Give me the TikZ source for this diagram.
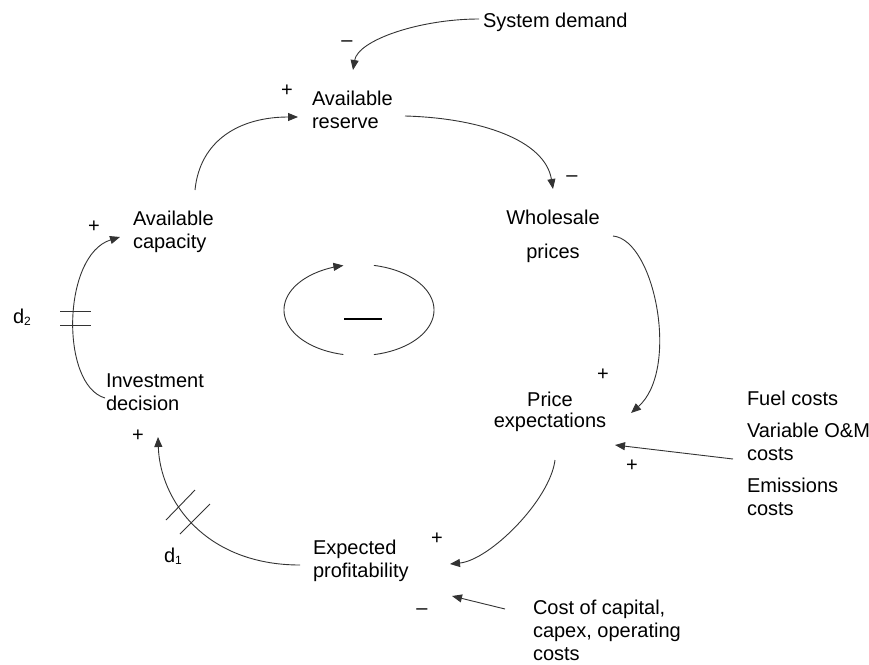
\documentclass[tikz,border=0pt]{standalone}
\usepackage{fontspec}
\setmainfont{Liberation Sans}
\usetikzlibrary{arrows.meta}
\begin{document}
\begin{tikzpicture}[x=1pt,y=-1pt,
  every node/.style={inner sep=0pt, outer sep=0pt, font=\fontsize{20}{23}\selectfont},
  lbl/.style={align=left},
  link/.style={draw=black!80, line width=0.9pt, -{Triangle[length=10pt,width=8pt]}},
  plain/.style={draw=black!80, line width=0.9pt},
  plus/.style={anchor=base, yshift=-7pt},
  minus/.style={anchor=base, yshift=-5.5pt}]
\useasboundingbox (0,0) rectangle (869,664);

% variables
\node[lbl, anchor=base west]  (demand)     at (483,27)    {System demand};
\node[lbl, anchor=north west] (reserve)    at (312,91.5)  {Available\\reserve};
\node[lbl, anchor=north west] (capacity)   at (133,211.5) {Available\\capacity};
\node[align=center, anchor=north] (wholesale) at (553,210.5) {Wholesale\\[11pt]prices};
\node[align=center, anchor=north] (priceexp)  at (550,392)   {Price\\[-2pt]expectations};
\node[lbl, anchor=north west] (investment) at (106,373.5) {Investment\\decision};
\node[lbl, anchor=north west] (profit)     at (313,539.5) {Expected\\profitability};
\node[lbl, anchor=base west]  (fuel)       at (747,405)   {Fuel costs};
\node[lbl, anchor=north west] (vom)        at (747,422.5) {Variable O\&M\\costs};
\node[lbl, anchor=north west] (emis)       at (747,477.5) {Emissions\\costs};
\node[lbl, anchor=north west] (capital)    at (533,599.5) {Cost of capital,\\capex, operating\\costs};

% delay labels
\node[anchor=base west] (d2) at (13,323)  {d{\fontsize{12}{12}\selectfont\raisebox{-2pt}{2}}};
\node[anchor=base west] (d1) at (164,562) {d{\fontsize{12}{12}\selectfont\raisebox{-2pt}{1}}};

% causal links
\draw[link] ([shift={(-4,-8)}]demand.base west) .. controls +(-59,0) and +(5,-30) .. ([shift={(41,-21.5)}]reserve.north west);
\draw[link] ([shift={(93,24.5)}]reserve.north west) .. controls +(75,2) and +(-8,-49) .. ([shift={(0,-21.5)}]wholesale.north);
\draw[link] ([shift={(62,-21.5)}]capacity.north west) .. controls +(5,-50) and +(-58,0) .. ([shift={(-14,25.5)}]reserve.north west);
\draw[link] ([shift={(60,25.5)}]wholesale.north) .. controls +(42,4) and +(49,-43) .. ([shift={(81,21)}]priceexp.north);
\draw[link] ([shift={(-14,36.5)}]vom.north west) -- ([shift={(65,53)}]priceexp.north);
\draw[link] ([shift={(5,68)}]priceexp.north) .. controls +(-5,40) and +(40,-4) .. ([shift={(137,24.5)}]profit.north west);
\draw[link] ([shift={(-28,9.5)}]capital.north west) -- ([shift={(139,56.5)}]profit.north west);
\draw[link] ([shift={(-13,25.5)}]profit.north west) .. controls +(-95,0) and +(2,63) .. ([shift={(52,63.5)}]investment.north west);
\draw[link] ([shift={(-1,24.5)}]investment.north west) .. controls +(-45,-13) and +(-58,18) .. ([shift={(-13,25.5)}]capacity.north west);

% delay marks
\draw[plain] (60,311) -- (91,311);
\draw[plain] (60,325) -- (91,325);
\draw[plain] (166,520) -- (195,490);
\draw[plain] (180,534) -- (210,504);

% balancing loop symbol
\begin{scope}[shift={(359,310)}]
  \draw[link] plot[domain=102:258, samples=60, smooth] ({75*cos(\x)}, {45.5*sin(\x)});
  \draw[plain] plot[domain=-78.5:78.5, samples=60, smooth] ({75*cos(\x)}, {45.5*sin(\x)});
  \draw[black, line width=1.6pt] (-15,9) -- (23,9);
\end{scope}

% polarities
\node[minus] (p1) at (347,41)  {–};
\node[plus]  (p2) at (287,89)  {+};
\node[minus] (p3) at (572,176) {–};
\node[plus]  (p4) at (94,225)  {+};
\node[plus]  (p5) at (603,373) {+};
\node[plus]  (p6) at (632,464) {+};
\node[plus]  (p7) at (138,434) {+};
\node[plus]  (p8) at (437,537) {+};
\node[minus] (p9) at (422,609) {–};
\end{tikzpicture}
\end{document}
